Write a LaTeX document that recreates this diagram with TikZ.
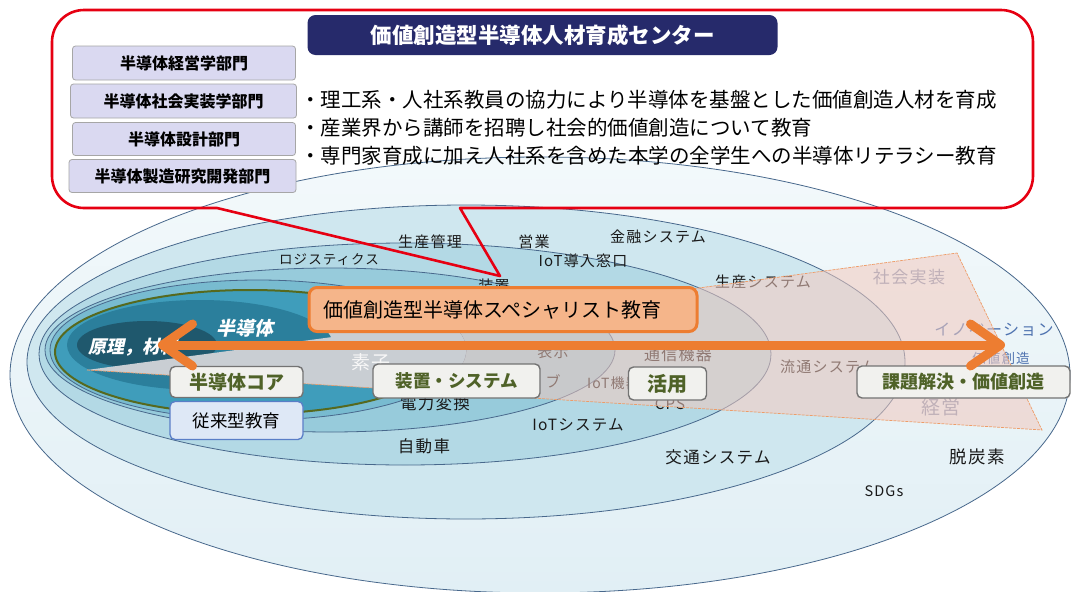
\documentclass[tikz,border=0pt]{standalone}
\usepackage{fontspec}
\setmainfont{Noto Sans CJK JP}
\newfontfamily\lblfont{Noto Sans CJK JP}[LetterSpace=8]
\newfontfamily\slfont{Noto Sans CJK JP}[FakeSlant=0.22]
\usetikzlibrary{arrows.meta}
\definecolor{ringtop}{HTML}{F3F9FB}
\definecolor{ringbot}{HTML}{E1EFF5}
\definecolor{ring2}{HTML}{CFE7EF}
\definecolor{ring3}{HTML}{B3D9E5}
\definecolor{ring4}{HTML}{97CBDB}
\definecolor{ring5}{HTML}{78BBD0}
\definecolor{ring6}{HTML}{3F9DBB}
\definecolor{ring7}{HTML}{2B7F9C}
\definecolor{ring8}{HTML}{1F586D}
\definecolor{ringline}{HTML}{48688C}
\definecolor{coreline}{HTML}{56691E}
\definecolor{fanpink}{HTML}{F2C9BE}
\definecolor{fanline}{HTML}{EE9C68}
\definecolor{wedgegray}{HTML}{C9CED3}
\definecolor{olivetxt}{HTML}{4F6228}
\definecolor{orng}{HTML}{ED7D31}
\definecolor{orngfill}{HTML}{F5B58A}
\definecolor{navy}{HTML}{262A6B}
\definecolor{lav}{HTML}{DAD9F1}
\definecolor{callred}{HTML}{E60012}
\definecolor{paleblue}{HTML}{DEE8F6}
\definecolor{boxblue}{HTML}{5A7EC7}
\definecolor{ghostc}{HTML}{8392B2}
\definecolor{innov}{HTML}{4F73B0}
\definecolor{tagfill}{HTML}{F1F1EE}
\begin{document}
\begin{tikzpicture}[x=1pt,y=-1pt,
  ring/.style={draw=ringline,line width=0.8pt},
  lbl/.style={inner sep=0pt,text=black!90,font=\lblfont\fontsize{#1}{#1}\selectfont},
  lbl/.default=15,
  tag/.style={draw=black!55,line width=1.4pt,rounded corners=5pt,fill=tagfill,text=olivetxt,inner sep=0pt},
  dept/.style={draw=black!35,line width=0.8pt,fill=lav,rounded corners=3pt,inner sep=0pt,font=\bfseries\fontsize{16}{16}\selectfont},
  bul/.style={anchor=west,inner sep=0pt,font=\fontsize{20.5}{20.5}\selectfont},
]
\clip (0,0) rectangle (1072,592);
\fill[white] (0,0) rectangle (1072,592);

% ---- nested ellipses
\shade[top color=ringtop,bottom color=ringbot] (540,375) ellipse [x radius=530, y radius=218];
\draw[ring] (540,375) ellipse [x radius=530, y radius=218];
\filldraw[ring,fill=ring2] (466,362) ellipse [x radius=439, y radius=157];
\filldraw[ring,fill=ring3] (405,354) ellipse [x radius=366, y radius=111];
\filldraw[ring,fill=ring4] (330,350) ellipse [x radius=285, y radius=82];
\filldraw[ring,fill=ring5] (258,350) ellipse [x radius=208, y radius=70];

% ---- labels in the blue rings
\node[lbl=15] (l1) at (430,242) {生産管理};
\node[lbl=15] (l2) at (534,242) {営業};
\node[lbl=15] (l3) at (658,237) {金融システム};
\node[lbl=13.5] (l4) at (329,260) {ロジスティクス};
\node[lbl=15] (l5) at (583,261) {IoT導入窓口};
\node[lbl=15] (l6) at (494,286) {装置};
\node[lbl=15] (l7) at (763,282) {生産システム};
\node[lbl=17,text=ghostc] (l8) at (909,277) {社会実装};
\node[lbl=16,text=innov] (l9) at (994,330) {イノベーション};
\node[lbl=13.5,text=innov] (l10) at (1001,358) {価値創造};
\node[lbl=19,text=ghostc] (l11) at (941,407) {経営};
\node[lbl=15] (l12) at (828,367) {流通システム};
\node[lbl=16] (l13) at (678,354) {通信機器};
\node[lbl=14,anchor=west] (l14) at (587,383) {IoT機器};
\node[lbl=15] (l15) at (670,404) {CPS};
\node[lbl=15] (l16) at (553,352) {表示};
\node[lbl=15] (l17) at (553,381) {ブ};
\node[lbl=16.5] (l18) at (435,403) {電力変換};
\node[lbl=15.5] (l19) at (578,425) {IoTシステム};
\node[lbl=16.5] (l20) at (424,446) {自動車};
\node[lbl=16.5] (l21) at (718,457) {交通システム};
\node[lbl=17.5] (l22) at (977,457) {脱炭素};
\node[lbl=14.5] (l23) at (884,491) {SDGs};

% ---- fan (social implementation area)
\fill[fanpink,fill opacity=0.55] (87,370) -- (957,253) -- (1042,430) -- cycle;

% ---- semiconductor core ellipses
\filldraw[draw=coreline,line width=2pt,fill=ring6] (250,352) ellipse [x radius=195, y radius=62];
\begin{scope}
  \clip (258,350) ellipse [x radius=208, y radius=70];
  \fill[wedgegray] (395,350) ellipse [x radius=105, y radius=38];
\end{scope}
\fill[ring7] (200,345) ellipse [x radius=133, y radius=45];
\fill[ring8] (147,345) ellipse [x radius=70, y radius=24];
\begin{scope}
  \clip (258,350) ellipse [x radius=208, y radius=70];
  \fill[wedgegray] (87,370) -- (957,253) -- (1042,430) -- cycle;
\end{scope}
\draw[fanline,line width=0.7pt,dash pattern=on 3pt off 1pt] (87,370) -- (1042,430) -- (957,253) -- (470,319);

\node[inner sep=0pt,text=white,font=\slfont\bfseries\fontsize{19}{19}\selectfont] (l24) at (245,328) {半導体};
\node[inner sep=0pt,anchor=west,text=white,font=\slfont\bfseries\fontsize{18}{18}\selectfont] (l25) at (88,347) {原理，材料};
\node[lbl=19,text=white!94!gray] (l26) at (371,362) {素子};

% ---- tags
\node[tag,minimum width=133pt,minimum height=31pt,font=\bfseries\fontsize{19}{19}\selectfont] (core) at (236.5,382) {半導体コア};
\node[draw=boxblue,line width=1.3pt,rounded corners=5pt,fill=paleblue,inner sep=0pt,minimum width=133pt,minimum height=38pt,font=\fontsize{17.5}{17.5}\selectfont] (conv) at (236.5,420.5) {従来型教育};
\node[tag,minimum width=167pt,minimum height=34pt,font=\bfseries\fontsize{17.5}{17.5}\selectfont] (sys) at (456.5,381) {装置・システム};
\node[tag,minimum width=78pt,minimum height=33pt,font=\bfseries\fontsize{20}{20}\selectfont] (use) at (667.5,383.5) {活用};
\node[tag,minimum width=213pt,minimum height=32pt,font=\bfseries\fontsize{18}{18}\selectfont] (val) at (963.5,382) {課題解決・価値創造};

% ---- specialist education box
\node[draw=orng,line width=3pt,fill=orngfill,rounded corners=8pt,minimum height=44pt,text width=360pt,align=left,inner xsep=14pt,inner ysep=0pt,font=\fontsize{20}{20}\selectfont] (spec) at (503,309.5) {価値創造型半導体スペシャリスト教育};

% ---- double arrow
\coordinate (AL) at (158,345);
\coordinate (AR) at (1005,345);
\draw[orng,line width=9pt,{Straight Barb[length=30pt,width=42pt,round]}-{Straight Barb[length=30pt,width=42pt,round]}] (AL) -- (AR);

% ---- callout
\draw[callred,line width=2.6pt,line join=round] (460,208) -- (1001,208) arc[start angle=90,end angle=0,radius=32] -- (1033,42) arc[start angle=0,end angle=-90,radius=32] -- (84,10) arc[start angle=-90,end angle=-180,radius=32] -- (52,176) arc[start angle=180,end angle=90,radius=32] -- (217,208) -- (500,276) -- cycle;

\node[fill=navy,rounded corners=8pt,minimum width=470pt,minimum height=40pt,inner sep=0pt,text=white,font=\bfseries\fontsize{21.5}{21.5}\selectfont] (title) at (542.5,35) {価値創造型半導体人材育成センター};

\node[dept,minimum width=223pt,minimum height=34pt] (d1) at (184,63) {半導体経営学部門};
\node[dept,minimum width=226pt,minimum height=34pt] (d2) at (183.5,101) {半導体社会実装学部門};
\node[dept,minimum width=223pt,minimum height=33pt] (d3) at (184,139) {半導体設計部門};
\node[dept,minimum width=227pt,minimum height=33pt] (d4) at (182.5,176) {半導体製造研究開発部門};

\node[bul] (b1) at (300,100) {・理工系・人社系教員の協力により半導体を基盤とした価値創造人材を育成};
\node[bul] (b2) at (300,128) {・産業界から講師を招聘し社会的価値創造について教育};
\node[bul] (b3) at (300,156) {・専門家育成に加え人社系を含めた本学の全学生への半導体リテラシー教育};
\end{tikzpicture}
\end{document}
